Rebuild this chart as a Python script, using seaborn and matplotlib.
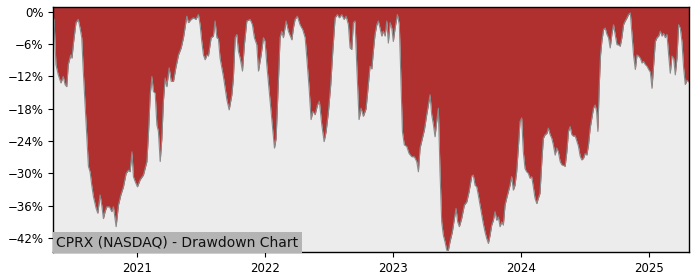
import numpy as np
import pandas as pd
import matplotlib
matplotlib.use("Agg")
import matplotlib.pyplot as plt
import matplotlib.dates as mdates
import matplotlib.ticker as mticker
import seaborn as sns

# decimal-year time stamps and drawdown values (%)
years = [
    2020.344, 2020.352, 2020.367, 2020.385, 2020.406, 2020.424, 2020.438, 2020.451, 2020.463, 2020.482,
    2020.492, 2020.502, 2020.523, 2020.541, 2020.555, 2020.568, 2020.580, 2020.594, 2020.607, 2020.620,
    2020.633, 2020.646, 2020.659, 2020.680, 2020.693, 2020.711, 2020.724, 2020.737, 2020.750, 2020.763,
    2020.784, 2020.802, 2020.815, 2020.828, 2020.836, 2020.854, 2020.873, 2020.893, 2020.914, 2020.932,
    2020.945, 2020.959, 2020.971, 2020.984, 2021.002, 2021.023, 2021.049, 2021.076, 2021.088, 2021.102,
    2021.115, 2021.127, 2021.141, 2021.154, 2021.166, 2021.180, 2021.193, 2021.205, 2021.219, 2021.232,
    2021.250, 2021.266, 2021.284, 2021.302, 2021.323, 2021.344, 2021.362, 2021.388, 2021.401, 2021.422,
    2021.440, 2021.459, 2021.479, 2021.492, 2021.505, 2021.518, 2021.531, 2021.545, 2021.557, 2021.578,
    2021.596, 2021.609, 2021.623, 2021.635, 2021.648, 2021.674, 2021.701, 2021.719, 2021.740, 2021.752,
    2021.766, 2021.779, 2021.791, 2021.805, 2021.823, 2021.838, 2021.857, 2021.883, 2021.901, 2021.916,
    2021.935, 2021.948, 2021.969, 2021.987, 2022.000, 2022.013, 2022.039, 2022.060, 2022.073, 2022.086,
    2022.104, 2022.117, 2022.130, 2022.143, 2022.164, 2022.182, 2022.209, 2022.221, 2022.234, 2022.252,
    2022.273, 2022.294, 2022.313, 2022.326, 2022.344, 2022.359, 2022.373, 2022.391, 2022.409, 2022.424,
    2022.443, 2022.461, 2022.477, 2022.495, 2022.513, 2022.529, 2022.547, 2022.565, 2022.580, 2022.599,
    2022.617, 2022.633, 2022.651, 2022.664, 2022.677, 2022.690, 2022.703, 2022.716, 2022.734, 2022.750,
    2022.768, 2022.789, 2022.807, 2022.820, 2022.834, 2022.846, 2022.859, 2022.873, 2022.885, 2022.898,
    2022.912, 2022.924, 2022.938, 2022.951, 2022.963, 2022.977, 2022.990, 2023.002, 2023.016, 2023.034,
    2023.049, 2023.063, 2023.073, 2023.088, 2023.107, 2023.125, 2023.146, 2023.166, 2023.185, 2023.198,
    2023.211, 2023.229, 2023.245, 2023.263, 2023.276, 2023.289, 2023.302, 2023.315, 2023.328, 2023.341,
    2023.354, 2023.367, 2023.380, 2023.393, 2023.406, 2023.420, 2023.432, 2023.445, 2023.463, 2023.479,
    2023.492, 2023.505, 2023.518, 2023.536, 2023.557, 2023.576, 2023.594, 2023.615, 2023.627, 2023.641,
    2023.654, 2023.666, 2023.680, 2023.693, 2023.705, 2023.719, 2023.732, 2023.745, 2023.758, 2023.771,
    2023.784, 2023.797, 2023.810, 2023.823, 2023.836, 2023.849, 2023.862, 2023.875, 2023.888, 2023.901,
    2023.914, 2023.927, 2023.940, 2023.953, 2023.966, 2023.979, 2023.992, 2024.005, 2024.018, 2024.031,
    2024.044, 2024.057, 2024.070, 2024.083, 2024.096, 2024.109, 2024.123, 2024.135, 2024.148, 2024.162,
    2024.174, 2024.188, 2024.201, 2024.213, 2024.227, 2024.240, 2024.252, 2024.266, 2024.279, 2024.291,
    2024.305, 2024.318, 2024.330, 2024.344, 2024.357, 2024.370, 2024.383, 2024.396, 2024.409, 2024.422,
    2024.435, 2024.448, 2024.461, 2024.474, 2024.487, 2024.500, 2024.513, 2024.526, 2024.539, 2024.552,
    2024.565, 2024.578, 2024.589, 2024.599, 2024.609, 2024.620, 2024.630, 2024.643, 2024.656, 2024.670,
    2024.682, 2024.695, 2024.708, 2024.721, 2024.734, 2024.748, 2024.760, 2024.773, 2024.786, 2024.799,
    2024.812, 2024.826, 2024.838, 2024.852, 2024.865, 2024.877, 2024.891, 2024.904, 2024.916, 2024.930,
    2024.943, 2024.955, 2024.969, 2024.982, 2024.995, 2025.008, 2025.021, 2025.034, 2025.047, 2025.060,
    2025.073, 2025.086, 2025.099, 2025.112, 2025.125, 2025.138, 2025.151, 2025.164, 2025.177, 2025.190,
    2025.203, 2025.216, 2025.229, 2025.242, 2025.255, 2025.268, 2025.281, 2025.294, 2025.307,
]
drawdown = [
    -1.0, -1.4, -9.8, -11.7, -13.2, -12.0, -13.5, -13.9, -9.8, -8.0,
    -8.6, -6.1, -2.0, -1.4, -3.0, -4.8, -11.0, -17.3, -22.8, -28.7,
    -29.7, -32.2, -34.3, -36.5, -37.4, -34.0, -35.9, -38.4, -37.1, -36.2,
    -36.2, -37.1, -36.2, -38.4, -39.9, -35.9, -34.0, -32.5, -30.0, -29.4,
    -29.7, -26.0, -30.6, -31.5, -32.5, -31.2, -30.3, -27.8, -22.8, -15.4,
    -12.0, -14.8, -15.1, -21.0, -22.2, -27.8, -23.5, -16.6, -12.3, -13.9,
    -10.4, -12.9, -12.9, -10.4, -8.0, -6.7, -4.8, -0.8, -2.0, -1.4,
    -1.1, -1.4, -0.5, -2.4, -5.5, -8.0, -8.9, -8.0, -8.2, -4.8,
    -4.5, -1.7, -4.8, -5.0, -8.6, -12.0, -16.3, -18.2, -15.4, -12.3,
    -4.8, -4.2, -7.3, -8.6, -11.0, -6.1, -1.7, -1.4, -2.4, -4.8,
    -6.1, -11.0, -8.0, -4.8, -5.5, -9.8, -16.6, -22.2, -25.3, -23.5,
    -12.9, -4.8, -3.6, -4.8, -1.7, -3.6, -5.2, -3.0, -1.4, -0.8,
    -2.4, -3.3, -4.8, -8.6, -14.2, -20.0, -18.5, -19.1, -17.3, -16.6,
    -21.0, -24.1, -22.2, -18.5, -13.5, -7.3, -1.1, -0.5, -1.1, -0.5,
    -1.4, -0.8, -2.4, -6.7, -7.0, -2.0, -1.7, -9.8, -20.0, -17.9,
    -19.4, -18.0, -13.5, -10.1, -10.6, -7.3, -4.2, -2.4, -1.7, -3.0,
    -4.5, -3.6, -4.5, -1.7, -5.8, -2.0, -3.0, -5.5, -3.0, -0.5,
    -2.4, -14.2, -22.2, -24.7, -25.0, -26.3, -26.9, -26.9, -27.8, -29.7,
    -25.3, -23.5, -21.9, -19.1, -17.3, -15.4, -19.1, -20.9, -23.2, -20.4,
    -17.9, -29.7, -39.0, -41.5, -42.7, -44.3, -44.3, -42.7, -40.9, -38.4,
    -36.5, -39.0, -39.9, -38.4, -35.9, -35.3, -33.4, -30.5, -30.3, -32.2,
    -32.5, -34.0, -35.9, -37.7, -39.3, -40.9, -42.1, -43.0, -41.5, -39.6,
    -38.7, -37.1, -38.7, -38.1, -39.9, -39.0, -39.6, -35.9, -34.6, -33.4,
    -32.2, -30.6, -33.1, -32.2, -29.7, -25.3, -20.4, -19.7, -26.0, -29.1,
    -29.7, -30.0, -30.9, -30.6, -32.5, -34.6, -35.6, -34.6, -33.7, -27.8,
    -23.5, -22.8, -22.6, -21.6, -22.8, -23.5, -24.7, -26.6, -25.3, -26.0,
    -27.8, -28.4, -28.5, -28.7, -26.0, -22.2, -21.3, -22.8, -23.1, -23.0,
    -24.0, -25.0, -26.8, -27.5, -27.2, -26.3, -26.6, -24.7, -21.6, -19.7,
    -17.9, -17.3, -18.5, -22.2, -14.2, -8.0, -5.5, -3.3, -3.0, -4.2,
    -4.8, -6.7, -4.2, -2.4, -4.2, -6.1, -6.1, -6.4, -4.8, -2.4,
    -1.7, -1.1, -0.5, -0.2, -4.2, -8.0, -10.7, -8.0, -8.2, -8.6,
    -9.5, -9.2, -9.8, -10.1, -10.7, -11.2, -14.2, -9.8, -5.5, -4.8,
    -4.5, -3.6, -4.5, -4.0, -4.8, -4.2, -8.0, -11.4, -8.2, -8.6,
    -11.7, -8.6, -2.4, -3.0, -5.5, -10.4, -13.5, -12.7, -13.0,
]
year_ticks = [2021, 2022, 2023, 2024, 2025]
title_text = "CPRX (NASDAQ) - Drawdown Chart"


def to_date(y):
    yr = int(np.floor(y))
    start = pd.Timestamp(year=yr, month=1, day=1)
    end = pd.Timestamp(year=yr + 1, month=1, day=1)
    return start + (y - yr) * (end - start)


df = pd.DataFrame({"date": [to_date(y) for y in years], "dd": drawdown})

y_top = 0.9
y_bottom = -44.6

fig = plt.figure(figsize=(7, 2.8), dpi=100)
ax = fig.add_axes([0.0757, 0.1, 0.908, 0.875])
ax.set_facecolor("#ECECEC")

ax.fill_between(df["date"], y_top + 1, df["dd"], color="#B03030", linewidth=0)
sns.lineplot(data=df, x="date", y="dd", ax=ax, color="#8A8A8A", linewidth=0.8)

ax.set_xlim(df["date"].iloc[0], df["date"].iloc[-1])
ax.set_ylim(y_bottom, y_top)
ax.yaxis.set_major_locator(mticker.MultipleLocator(6))
ax.yaxis.set_major_formatter(mticker.PercentFormatter(decimals=0))
ax.set_xticks([pd.Timestamp(year=y, month=1, day=1) for y in year_ticks])
ax.xaxis.set_major_formatter(mdates.DateFormatter("%Y"))
ax.tick_params(labelsize=8.5)
ax.set_xlabel("")
ax.set_ylabel("")
for s in ax.spines.values():
    s.set_color("black")
    s.set_linewidth(1.0)

ax.text(0.0055, 0.012, title_text, transform=ax.transAxes, fontsize=10,
        ha="left", va="bottom", color="#111111",
        bbox=dict(boxstyle="square,pad=0.25", facecolor="#B4B4B4", edgecolor="none"))

fig.savefig("out.png", dpi=100)
